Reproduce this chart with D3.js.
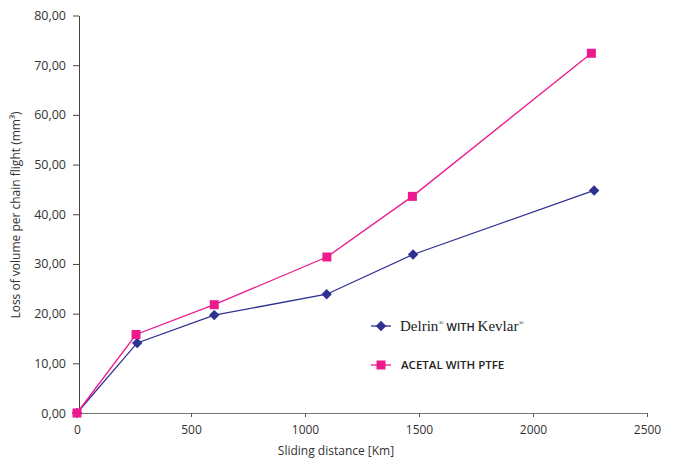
<!DOCTYPE html>
<html><head><meta charset="utf-8">
<script src="https://cdn.jsdelivr.net/npm/d3@7"></script>
<style>body{margin:0;background:#fff}svg text{font-family:"Open Sans","Noto Sans",sans-serif}</style>
</head><body><svg id="c" width="673" height="461"></svg>
<script>
const delrinX = [0, 264, 602, 1095, 1474, 2268];
const delrinY = [0, 14.1, 19.7, 23.9, 31.9, 44.8];
const acetalX = [0, 259, 602, 1096, 1471, 2256];
const acetalY = [0, 15.8, 21.8, 31.4, 43.6, 72.4];
const xTicks = [0, 500, 1000, 1500, 2000, 2500];
const yTicks = [0, 10, 20, 30, 40, 50, 60, 70, 80];
const blue = "#2e3192", pink = "#ec1a8c";

const svg = d3.select("#c");
const x = d3.scaleLinear().domain([0, 2500]).range([77, 647]);
const y = d3.scaleLinear().domain([0, 80]).range([413, 15.5]);

const xa = svg.append("g").attr("transform", "translate(0,413)")
  .call(d3.axisBottom(x).tickValues(xTicks).tickSize(4).tickSizeOuter(0).tickPadding(8).tickFormat(d3.format("d")));
xa.select(".domain").attr("stroke", "#777");
xa.selectAll(".tick line").attr("stroke", "#555");
xa.selectAll("text").attr("font-size", 12).attr("fill", "#333");

const ya = svg.append("g").attr("transform", "translate(79,0)")
  .call(d3.axisLeft(y).tickValues(yTicks).tickSize(6).tickSizeOuter(0).tickPadding(7)
    .tickFormat(d => d3.format(".2f")(d).replace(".", ",")));
ya.select(".domain").attr("stroke", "#444");
ya.selectAll(".tick line").attr("stroke", "#444");
ya.selectAll("text").attr("font-size", 12.5).attr("fill", "#333");

svg.append("text").attr("x", 336).attr("y", 455).attr("text-anchor", "middle")
  .attr("font-size", 12).attr("fill", "#333").text("Sliding distance [Km]");
svg.append("text").attr("transform", "translate(20,215) rotate(-90)").attr("text-anchor", "middle")
  .attr("font-size", 12).attr("fill", "#333").text("Loss of volume per chain flight (mm³)");

const line = d3.line().x(d => x(d[0])).y(d => y(d[1]));
const dData = delrinX.map((v, i) => [v, delrinY[i]]);
const aData = acetalX.map((v, i) => [v, acetalY[i]]);

svg.append("path").datum(dData).attr("d", line).attr("fill", "none").attr("stroke", blue).attr("stroke-width", 1.3);
svg.append("path").datum(aData).attr("d", line).attr("fill", "none").attr("stroke", pink).attr("stroke-width", 1.3);

const diamond = d3.symbol().type(d3.symbolDiamond2).size(70);
svg.selectAll(".dm").data(dData).join("path")
  .attr("transform", d => `translate(${x(d[0])},${y(d[1])})`)
  .attr("d", diamond).attr("fill", blue);
svg.selectAll(".sq").data(aData).join("rect")
  .attr("x", d => x(d[0]) - 4.5).attr("y", d => y(d[1]) - 4.5)
  .attr("width", 9).attr("height", 9).attr("fill", pink);

// legend
const lg = svg.append("g");
lg.append("line").attr("x1", 371).attr("x2", 391).attr("y1", 326).attr("y2", 326).attr("stroke", blue).attr("stroke-width", 1.3);
lg.append("path").attr("transform", "translate(381,326)").attr("d", diamond).attr("fill", blue);
const t1 = lg.append("text").attr("x", 400).attr("y", 331).attr("fill", "#222");
t1.append("tspan").attr("font-family", "Liberation Serif, serif").attr("font-size", 15).text("Delrin");
t1.append("tspan").attr("font-family", "Liberation Serif, serif").attr("font-size", 7).attr("dy", -6).text("®");
t1.append("tspan").attr("font-size", 11).attr("font-weight", 600).attr("dy", 6).text(" WITH ");
t1.append("tspan").attr("font-family", "Liberation Serif, serif").attr("font-size", 15).text("Kevlar");
t1.append("tspan").attr("font-family", "Liberation Serif, serif").attr("font-size", 7).attr("dy", -6).text("®");

lg.append("line").attr("x1", 371).attr("x2", 391).attr("y1", 365).attr("y2", 365).attr("stroke", pink).attr("stroke-width", 1.3);
lg.append("rect").attr("x", 376.5).attr("y", 360.5).attr("width", 9).attr("height", 9).attr("fill", pink);
lg.append("text").attr("x", 401).attr("y", 369).attr("font-size", 11.5).attr("font-weight", 600).attr("fill", "#222").text("ACETAL WITH PTFE");
</script></body></html>
